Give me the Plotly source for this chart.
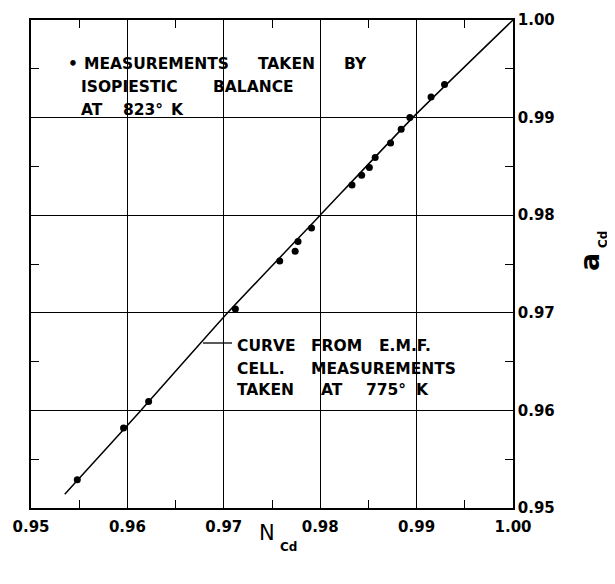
import plotly.graph_objects as go

# ---- data ----
meas_x = [0.9548, 0.9596, 0.9622, 0.9712, 0.9758, 0.9774, 0.9777, 0.9791, 0.9833,
          0.9843, 0.9851, 0.9857, 0.9873, 0.9884, 0.9893, 0.9915, 0.9929]
meas_y = [0.9529, 0.9582, 0.9609, 0.9704, 0.9753, 0.9763, 0.9773, 0.9787, 0.9831,
          0.9841, 0.9849, 0.9859, 0.9874, 0.9888, 0.9900, 0.9921, 0.9934]
curve_x = [0.9535, 0.9614, 0.9704, 0.9800, 0.9896, 1.0]
curve_y = [0.9514, 0.9600, 0.9700, 0.9800, 0.9900, 1.0]
tick_vals = [0.95, 0.96, 0.97, 0.98, 0.99, 1.00]
tick_text = ["0.95", "0.96", "0.97", "0.98", "0.99", "1.00"]

# page has an 8px body margin: work in page pixels, shift into figure pixels
OFF = 8
W, H = 615 - OFF, 584 - OFF
L, R, T, B = 31, 513, 20, 508          # plot area in page pixels
FONT = "DejaVu Sans"


def px(x):
    return (x - L) / (R - L)


def py(y):
    return (B - y) / (B - T)


fig = go.Figure()
fig.add_trace(go.Scatter(x=curve_x, y=curve_y, mode="lines",
                         line=dict(color="black", width=1.5, shape="spline", smoothing=0.5),
                         hoverinfo="skip"))
fig.add_trace(go.Scatter(x=meas_x, y=meas_y, mode="markers",
                         marker=dict(color="black", size=7)))

axis_common = dict(
    range=[0.95, 1.00], tickvals=tick_vals, ticktext=tick_text,
    showgrid=True, gridcolor="black", gridwidth=1.2,
    showline=True, linecolor="black", linewidth=1.5, mirror="ticks",
    ticks="inside", ticklen=1, tickcolor="black",
    minor=dict(dtick=0.005, tick0=0.95, ticks="inside", ticklen=8, tickcolor="black", showgrid=False),
    tickfont=dict(family=FONT, size=15, color="black", weight="bold"),
    zeroline=False, fixedrange=True, automargin=False,
)

fig.update_xaxes(**axis_common, ticklabelstandoff=4)
fig.update_yaxes(**axis_common, side="right")

shapes = []
# white boxes behind the text blocks (gridlines interrupted there)
shapes.append(dict(type="rect", xref="paper", yref="paper", layer="between",
                   x0=px(36), x1=px(311), y0=py(33), y1=py(112),
                   fillcolor="white", line=dict(width=0)))
shapes.append(dict(type="rect", xref="paper", yref="paper", layer="between",
                   x0=px(233), x1=px(458), y0=py(327), y1=py(404),
                   fillcolor="white", line=dict(width=0)))
# leader line
shapes.append(dict(type="line", xref="paper", yref="paper",
                   x0=px(203), x1=px(232), y0=py(343), y1=py(343),
                   line=dict(color="black", width=1.3)))

ann = []


def word(text, x, y, size=15.5):
    ann.append(dict(text=text, x=px(x), y=py(y), xref="paper", yref="paper",
                    xanchor="left", yanchor="middle", showarrow=False,
                    font=dict(family=FONT, size=size, color="black", weight="bold")))


# upper legend text
word("•", 66, 64)
word("MEASUREMENTS", 82, 64)
word("TAKEN", 256, 64)
word("BY", 342, 64)
word("ISOPIESTIC", 79, 87)
word("BALANCE", 211, 87)
word("AT", 79, 110)
word("823°", 121, 110)
word("K", 169, 110)

# lower curve label
word("CURVE", 235, 346)
word("FROM", 309, 346)
word("E.M.F.", 377, 346)
word("CELL.", 235, 369)
word("MEASUREMENTS", 309, 369)
word("TAKEN", 235, 390)
word("AT", 319, 390)
word("775°", 364, 390)
word("K", 414, 390)

# axis titles
ann.append(dict(text="N", x=px(267), y=py(533), xref="paper", yref="paper",
                xanchor="center", yanchor="middle", showarrow=False,
                font=dict(family=FONT, size=21, color="black")))
ann.append(dict(text="Cd", x=px(288), y=py(547), xref="paper", yref="paper",
                xanchor="center", yanchor="middle", showarrow=False,
                font=dict(family=FONT, size=12, color="black", weight="bold")))
ann.append(dict(text="a", x=px(589), y=py(262), xref="paper", yref="paper",
                xanchor="center", yanchor="middle", showarrow=False, textangle=-90,
                font=dict(family=FONT, size=27, color="black", weight="bold")))
ann.append(dict(text="Cd", x=px(603), y=py(240), xref="paper", yref="paper",
                xanchor="center", yanchor="middle", showarrow=False, textangle=-90,
                font=dict(family=FONT, size=12, color="black", weight="bold")))

fig.update_layout(
    width=W, height=H,
    margin=dict(l=L - OFF, r=(615 - R), t=T - OFF, b=(584 - B)),
    paper_bgcolor="white", plot_bgcolor="white",
    showlegend=False, shapes=shapes, annotations=ann,
)

fig.write_html("out.html")
